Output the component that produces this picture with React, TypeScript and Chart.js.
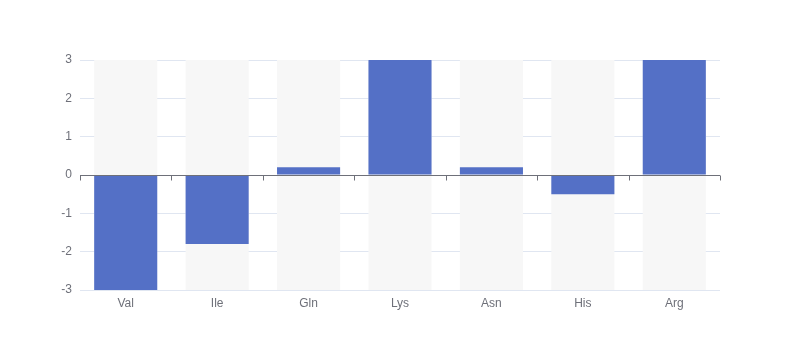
import React, { useEffect, useRef } from "react";
import { Chart, registerables } from "chart.js";

Chart.register(...registerables);

const categories = ["Val", "Ile", "Gln", "Lys", "Asn", "His", "Arg"];
const values = [-3, -1.8, 0.2, 3, 0.2, -0.5, 3];
const yMin = -3;
const yMax = 3;
const yStep = 1;

const zeroAxisPlugin = {
  id: "zeroAxis",
  afterDatasetsDraw(chart: any) {
    const { ctx, chartArea, scales } = chart;
    const y0 = Math.round(scales.y.getPixelForValue(0)) + 0.5;
    const n = categories.length;
    const w = (chartArea.right - chartArea.left) / n;
    ctx.save();
    ctx.strokeStyle = "#6e7079";
    ctx.lineWidth = 1;
    ctx.beginPath();
    ctx.moveTo(chartArea.left, y0);
    ctx.lineTo(chartArea.right, y0);
    for (let i = 0; i <= n; i++) {
      const x = Math.round(chartArea.left + i * w) + 0.5;
      ctx.moveTo(x, y0);
      ctx.lineTo(x, y0 + 5);
    }
    ctx.stroke();
    ctx.restore();
  },
};

export default function App() {
  const ref = useRef<HTMLCanvasElement>(null);
  useEffect(() => {
    const chart = new Chart(ref.current as HTMLCanvasElement, {
      type: "bar",
      data: {
        labels: categories,
        datasets: [
          {
            data: values,
            backgroundColor: "#5470c6",
            borderWidth: 0,
            order: 1,
            grouped: false,
            barPercentage: 0.69,
            categoryPercentage: 1,
          } as any,
          {
            data: categories.map(() => [yMin, yMax]),
            backgroundColor: "#f7f7f7",
            borderWidth: 0,
            order: 2,
            grouped: false,
            barPercentage: 0.69,
            categoryPercentage: 1,
          } as any,
        ],
      },
      options: {
        animation: false,
        responsive: false,
        maintainAspectRatio: false,
        layout: { padding: { left: 0, right: 80, top: 60, bottom: 0 } },
        plugins: { legend: { display: false }, tooltip: { enabled: false } },
        scales: {
          x: {
            grid: { display: false, drawTicks: false },
            border: { display: false },
            ticks: {
              color: "#6e7079",
              font: { size: 12, family: "sans-serif" },
              padding: 6,
            },
            afterFit: (s: any) => {
              s.height = 70;
            },
          },
          y: {
            min: yMin,
            max: yMax,
            grid: { color: "#e0e6f1", drawTicks: false },
            border: { display: false },
            ticks: {
              stepSize: yStep,
              color: "#6e7079",
              font: { size: 12, family: "sans-serif" },
              padding: 8,
            },
            afterFit: (s: any) => {
              s.width = 80;
            },
          },
        },
      },
      plugins: [zeroAxisPlugin],
    });
    return () => chart.destroy();
  }, []);
  return (
    <div style={{ position: "absolute", left: 0, top: 0, width: 800, height: 360 }}>
      <canvas ref={ref} width={800} height={360} style={{ width: 800, height: 360 }} />
    </div>
  );
}
